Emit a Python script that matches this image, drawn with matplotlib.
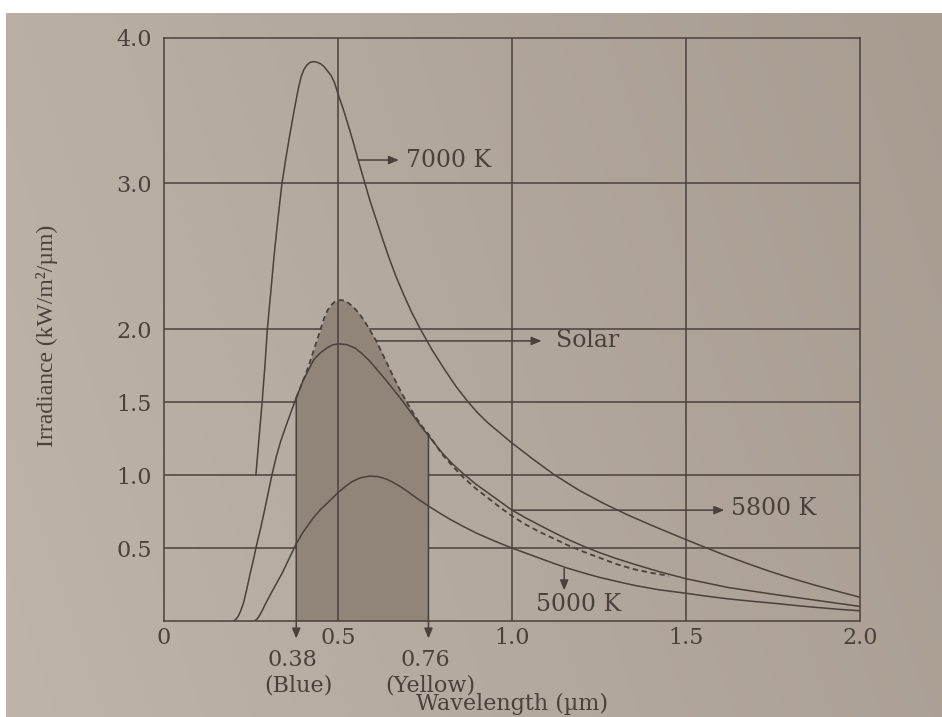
import numpy as np
import matplotlib
matplotlib.use("Agg")
import matplotlib.pyplot as plt

# ---- spectral irradiance curves: wavelength (um) and irradiance (kW/m^2/um) ----
wl_7000 = [0.264, 0.273, 0.282, 0.290, 0.297, 0.307, 0.317, 0.328, 0.339, 0.350,
           0.362, 0.374, 0.386, 0.394, 0.402, 0.410, 0.420, 0.430, 0.440, 0.450,
           0.460, 0.470, 0.480, 0.490, 0.502, 0.515, 0.528, 0.543, 0.558, 0.575,
           0.592, 0.610, 0.628, 0.645, 0.667, 0.690, 0.713, 0.737, 0.770, 0.806,
           0.840, 0.871, 0.900, 0.930, 0.965, 1.00, 1.06, 1.12, 1.19, 1.26, 1.33,
           1.40, 1.45, 1.50, 1.56, 1.62, 1.68, 1.74, 1.80, 1.87, 1.93, 2.00]
irr_7000 = [1.00, 1.25, 1.50, 1.75, 2.00, 2.26, 2.52, 2.77, 3.00, 3.17,
            3.34, 3.50, 3.65, 3.73, 3.78, 3.81, 3.83, 3.835, 3.83, 3.82,
            3.80, 3.77, 3.74, 3.69, 3.60, 3.51, 3.41, 3.29, 3.16, 3.02,
            2.88, 2.75, 2.62, 2.50, 2.36, 2.23, 2.11, 2.00, 1.86, 1.725,
            1.605, 1.51, 1.43, 1.36, 1.29, 1.22, 1.11, 1.005, 0.90, 0.81, 0.73,
            0.657, 0.607, 0.558, 0.50, 0.444, 0.391, 0.341, 0.295, 0.246, 0.207, 0.163]

wl_5800 = [0.200, 0.208, 0.215, 0.222, 0.228, 0.238, 0.248, 0.257, 0.265, 0.278,
           0.290, 0.300, 0.310, 0.322, 0.335, 0.348, 0.360, 0.370, 0.380, 0.390,
           0.400, 0.415, 0.430, 0.450, 0.470, 0.485, 0.500, 0.525, 0.550, 0.570,
           0.590, 0.615, 0.640, 0.660, 0.680, 0.700, 0.720, 0.740, 0.760, 0.780,
           0.800, 0.830, 0.860, 0.895, 0.930, 0.965, 1.00, 1.04, 1.08, 1.12, 1.16,
           1.205, 1.25, 1.30, 1.35, 1.42, 1.50, 1.56, 1.62, 1.69, 1.76, 1.82, 1.88,
           1.94, 2.00]
irr_5800 = [0.00, 0.015, 0.04, 0.08, 0.12, 0.22, 0.33, 0.42, 0.51, 0.64,
            0.77, 0.885, 1.00, 1.12, 1.23, 1.32, 1.40, 1.465, 1.53, 1.59,
            1.65, 1.72, 1.79, 1.84, 1.875, 1.893, 1.90, 1.895, 1.87, 1.83,
            1.785, 1.715, 1.645, 1.585, 1.525, 1.46, 1.395, 1.33, 1.27, 1.21,
            1.15, 1.075, 1.01, 0.94, 0.88, 0.82, 0.76, 0.706, 0.656, 0.607, 0.56,
            0.513, 0.47, 0.428, 0.39, 0.34, 0.29, 0.26, 0.23, 0.205, 0.18, 0.16, 0.14,
            0.12, 0.10]

wl_solar = [0.38, 0.39, 0.40, 0.41, 0.42, 0.435, 0.45, 0.46, 0.47, 0.48, 0.49, 0.50,
            0.51, 0.52, 0.53, 0.545, 0.56, 0.575, 0.59, 0.60, 0.61, 0.625, 0.64,
            0.66, 0.68, 0.70, 0.72, 0.74, 0.76, 0.78, 0.80, 0.83, 0.86, 0.895,
            0.93, 0.965, 1.00, 1.04, 1.08, 1.12, 1.16, 1.205, 1.25, 1.30, 1.35,
            1.40, 1.45]
irr_solar = [1.53, 1.59, 1.65, 1.71, 1.78, 1.89, 2.00, 2.075, 2.13, 2.165, 2.187, 2.198,
             2.20, 2.195, 2.18, 2.15, 2.11, 2.06, 2.00, 1.96, 1.92, 1.845, 1.77,
             1.67, 1.575, 1.49, 1.41, 1.34, 1.28, 1.21, 1.14, 1.06, 0.985, 0.91,
             0.845, 0.78, 0.72, 0.66, 0.61, 0.565, 0.52, 0.475, 0.435, 0.39, 0.355,
             0.33, 0.31]

wl_5000 = [0.260, 0.268, 0.275, 0.283, 0.290, 0.300, 0.310, 0.325, 0.340, 0.360,
           0.380, 0.400, 0.430, 0.450, 0.470, 0.500, 0.520, 0.540, 0.565, 0.590,
           0.615, 0.640, 0.660, 0.680, 0.700, 0.720, 0.740, 0.760, 0.790, 0.820,
           0.860, 0.900, 0.950, 1.00, 1.04, 1.08, 1.12, 1.16, 1.205, 1.25, 1.30,
           1.35, 1.42, 1.50, 1.56, 1.62, 1.69, 1.76, 1.82, 1.88, 1.94, 2.00]
irr_5000 = [0.00, 0.015, 0.04, 0.075, 0.11, 0.155, 0.20, 0.265, 0.33, 0.43,
            0.53, 0.61, 0.71, 0.765, 0.81, 0.88, 0.92, 0.955, 0.982, 0.993,
            0.99, 0.972, 0.948, 0.92, 0.888, 0.853, 0.82, 0.788, 0.743, 0.70,
            0.648, 0.60, 0.548, 0.50, 0.465, 0.43, 0.395, 0.362, 0.33, 0.30, 0.272,
            0.245, 0.215, 0.19, 0.17, 0.152, 0.135, 0.12, 0.105, 0.092, 0.08, 0.07]

# visible band edges (um) and their names
band_edges = [0.38, 0.76]
band_names = ["(Blue)", "(Yellow)"]

x_ticks = [0, 0.5, 1.0, 1.5, 2.0]
x_tick_labels = ["0", "0.5", "1.0", "1.5", "2.0"]
y_ticks = [0.5, 1.0, 1.5, 2.0, 3.0, 4.0]
y_tick_labels = ["0.5", "1.0", "1.5", "2.0", "3.0", "4.0"]

INK = "#4b413b"
SHADE = "#918579"

plt.rcParams["font.family"] = ["DejaVu Serif"]

W, H = 942, 717
fig = plt.figure(figsize=(W / 100, H / 100), dpi=100, facecolor="white")

# paper background with a soft left-to-right lighting falloff
bg = fig.add_axes([6 / W, 0, 1 - 6 / W, 1 - 13 / H], zorder=-10)
gx, gy = np.meshgrid(np.linspace(0, 1, 240), np.linspace(0, 1, 180))
c_left = np.array([190, 180, 170]) / 255
c_right = np.array([168, 156, 145]) / 255
t = (0.8 * gx + 0.2 * (1 - gy))[..., None]
bg.imshow(c_left * (1 - t) + c_right * t, aspect="auto", extent=[0, 1, 0, 1],
          interpolation="bilinear")
bg.axis("off")

ax = fig.add_axes([164 / W, 1 - 621 / H, 696 / W, 583.5 / H])
ax.patch.set_alpha(0)
ax.set_xlim(0, 2.0)
ax.set_ylim(0, 4.0)

lw = 1.1
# grid
for yv in [0.5, 1.0, 1.5, 2.0, 3.0]:
    ax.axhline(yv, color=INK, lw=lw, zorder=1)
for xv in [1.0, 1.5]:
    ax.axvline(xv, color=INK, lw=lw, zorder=1)

# visible band shaded under the solar curve
band = [(x, y) for x, y in zip(wl_solar, irr_solar) if band_edges[0] <= x <= band_edges[1]]
bx = [p[0] for p in band]
by = [p[1] for p in band]
ax.fill_between(bx, 0, by, color=SHADE, lw=0, zorder=2)
ax.axvline(0.5, color=INK, lw=lw, zorder=3)

# curves
curve_kw = dict(color=INK, lw=lw, zorder=4, solid_joinstyle="round", solid_capstyle="round")
ax.plot(wl_7000, irr_7000, **curve_kw)
ax.plot(wl_5800, irr_5800, **curve_kw)
ax.plot(wl_5000, irr_5000, **curve_kw)
ax.plot(wl_solar, irr_solar, color=INK, lw=1.3, ls=(0, (3, 2)), zorder=5)

arrow = dict(arrowstyle="-|>,head_length=0.6,head_width=0.25", color=INK, lw=lw,
             mutation_scale=10, shrinkA=0, shrinkB=0)

# band edge arrows and their labels
for edge, name in zip(band_edges, band_names):
    top = irr_solar[wl_solar.index(edge)]
    ax.annotate("", xy=(edge, -0.12), xytext=(edge, top), arrowprops=arrow,
                annotation_clip=False, zorder=6)
    ax.text(edge - 0.01, -0.265, f"{edge:.2f}", ha="center", va="center",
            fontsize=16, color=INK, clip_on=False)
    ax.text(edge + 0.005, -0.44, name, ha="center", va="center",
            fontsize=16, color=INK, clip_on=False)

# curve callouts
lab_fs = 17
ax.annotate("", xy=(0.675, 3.16), xytext=(0.558, 3.16), arrowprops=arrow, zorder=6)
ax.text(0.695, 3.16, "7000 K", ha="left", va="center", fontsize=lab_fs, color=INK)

ax.annotate("", xy=(1.085, 1.92), xytext=(0.61, 1.92), arrowprops=arrow, zorder=6)
ax.text(1.125, 1.92, "Solar", ha="left", va="center", fontsize=lab_fs, color=INK)

ax.annotate("", xy=(1.61, 0.76), xytext=(1.0, 0.76), arrowprops=arrow, zorder=6)
ax.text(1.63, 0.77, "5800 K", ha="left", va="center", fontsize=lab_fs, color=INK)

ax.annotate("", xy=(1.15, 0.21), xytext=(1.15, 0.36), arrowprops=arrow, zorder=6)
ax.text(1.19, 0.11, "5000 K", ha="center", va="center", fontsize=lab_fs, color=INK)

# axes frame and ticks
for s in ax.spines.values():
    s.set_color(INK)
    s.set_linewidth(lw)
    s.set_zorder(6)
ax.set_xticks(x_ticks, x_tick_labels)
ax.set_yticks(y_ticks, y_tick_labels)
ax.tick_params(axis="both", length=0, labelsize=16, labelcolor=INK)
ax.tick_params(axis="x", pad=4)
ax.tick_params(axis="y", pad=9)

ax.text(1.0, -0.57, "Wavelength (\u00b5m)", ha="center", va="center",
        fontsize=16, color=INK, clip_on=False)
fig.text(47 / W, 1 - 336 / H, "Irradiance (kW/m\u00b2/\u00b5m)", rotation=90,
         ha="center", va="center", fontsize=17, color=INK,
         family=["Liberation Serif", "DejaVu Serif"])

fig.savefig("out.png", dpi=100, facecolor=fig.get_facecolor())
